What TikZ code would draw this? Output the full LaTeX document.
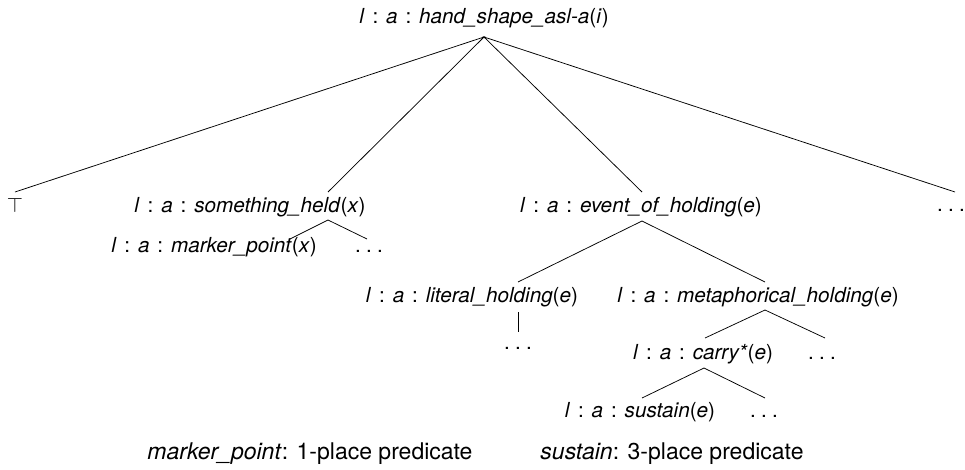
\documentclass[tikz,border=0pt]{standalone}
\usepackage{fontspec}
\setmainfont{TeX Gyre Heros}
\newcommand\ldts{.\kern0.25em.\kern0.25em.}
\newcommand\lab[1]{\textit{l}\hspace{0.38em}:\hspace{0.38em}\textit{a}\hspace{0.38em}:\hspace{0.38em}#1}
\begin{document}
\begin{tikzpicture}[x=1pt,y=-1pt,
  lbl/.style={inner sep=0pt,anchor=base,font=\fontsize{20.7}{22}\selectfont},
  captext/.style={inner sep=0pt,anchor=base,font=\fontsize{23}{26}\selectfont},
  br/.style={line width=0.75pt}]
\useasboundingbox (0,0) rectangle (965,469);
% nodes
\node[lbl] (root) at (484,23) {\lab{\textit{hand\_shape\_asl-a}(\textit{i})}};
\node[lbl] (top) at (15,212) {$\top$};
\node[lbl] (sh) at (250,212) {\lab{\textit{something\_held}(\textit{x})}};
\node[lbl] (eh) at (641,212) {\lab{\textit{event\_of\_holding}(\textit{e})}};
\node[lbl] (rd) at (951,211) {\ldts};
\node[lbl] (mp) at (214,252) {\lab{\textit{marker\_point}(\textit{x})}};
\node[lbl] (mpd) at (369,252) {\ldts};
\node[lbl] (lh) at (472,302) {\lab{\textit{literal\_holding}(\textit{e})}};
\node[lbl] (mh) at (758,302) {\lab{\textit{metaphorical\_holding}(\textit{e})}};
\node[lbl] (lhd) at (518,349) {\ldts};
\node[lbl] (ca) at (703,359) {\lab{\textit{carry*}(\textit{e})}};
\node[lbl] (cad) at (822,359) {\ldts};
\node[lbl] (su) at (640,417) {\lab{\textit{sustain}(\textit{e})}};
\node[lbl] (sud) at (764,417) {\ldts};
\node[captext] (c1) at (310,459) {\textit{marker\_point}: 1-place predicate};
\node[captext] (c2) at (672,459) {\textit{sustain}: 3-place predicate};
% branch points
\coordinate (rA) at (484,37);
\coordinate (topE) at (15,192);
\coordinate (shE) at (328,192);
\coordinate (ehE) at (642,192);
\coordinate (rdE) at (955,192);
\coordinate (shA) at (328,220);
\coordinate (mpE) at (290,239);
\coordinate (mpdE) at (367,239);
\coordinate (ehA) at (642,221);
\coordinate (lhE) at (518,282);
\coordinate (mhE) at (765,282);
\coordinate (lhA) at (518,312);
\coordinate (lhdE) at (518,332);
\coordinate (mhA) at (765,310);
\coordinate (caE) at (705,338);
\coordinate (cadE) at (825,338);
\coordinate (caA) at (704,368);
\coordinate (suE) at (642,398);
\coordinate (sudE) at (765,398);
% branches
\draw[br] (topE) -- (rA) -- (shE);
\draw[br] (ehE) -- (rA) -- (rdE);
\draw[br] (mpE) -- (shA) -- (mpdE);
\draw[br] (lhE) -- (ehA) -- (mhE);
\draw[br] (lhA) -- (lhdE);
\draw[br] (caE) -- (mhA) -- (cadE);
\draw[br] (suE) -- (caA) -- (sudE);
\end{tikzpicture}
\end{document}
